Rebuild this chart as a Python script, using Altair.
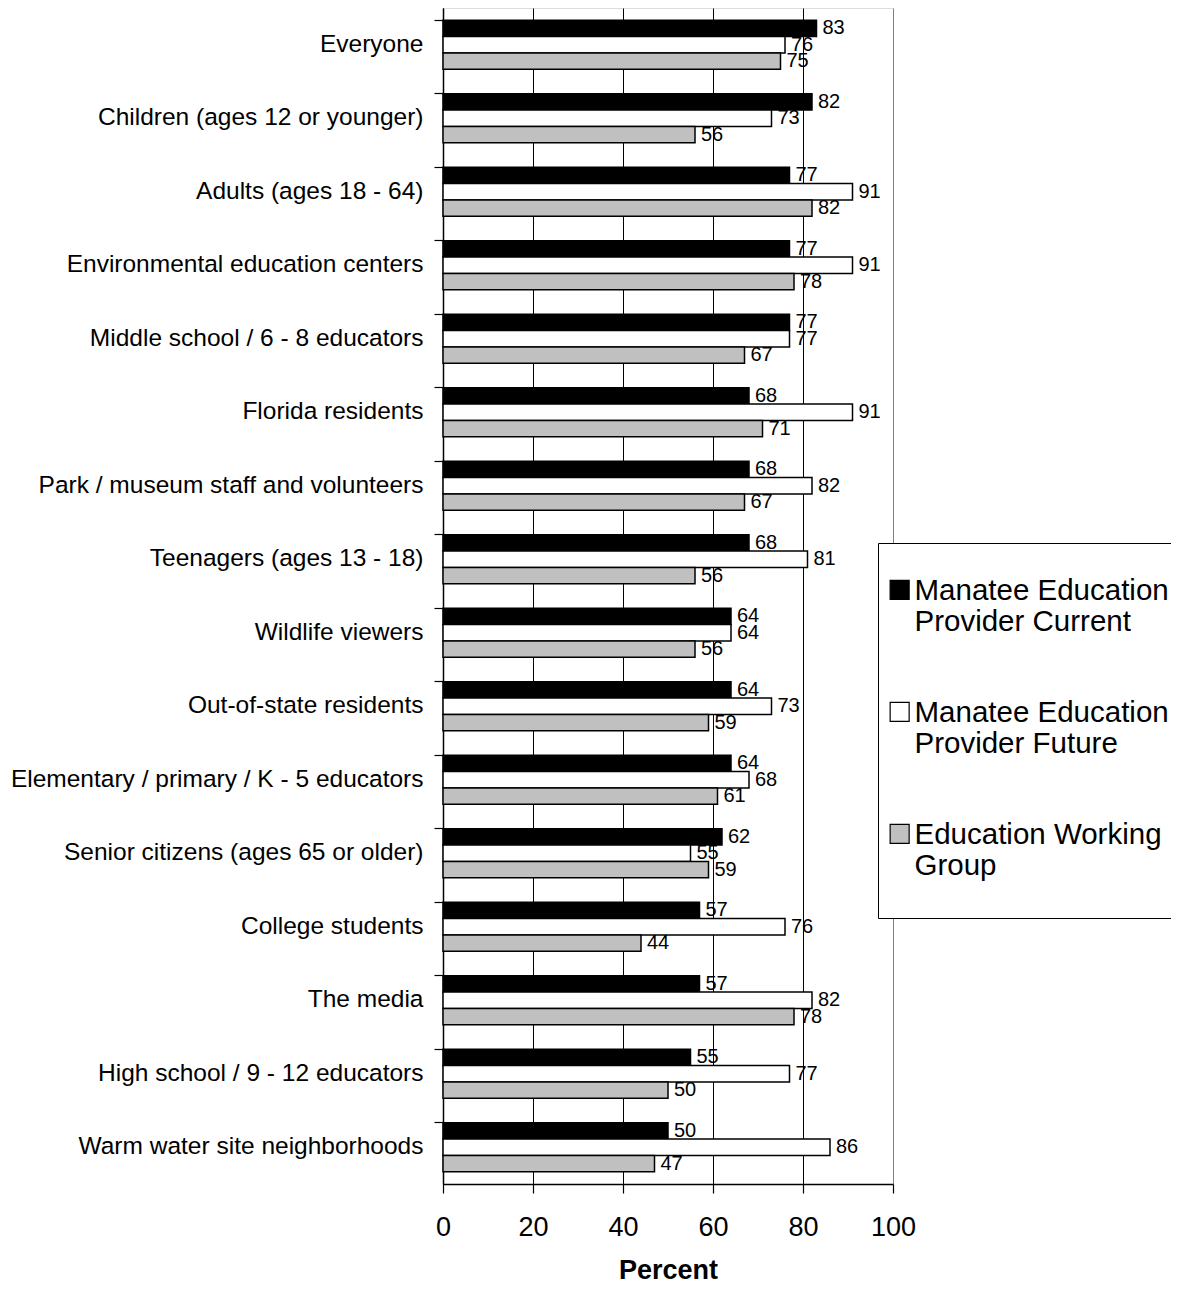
import json
import altair as alt
import pandas as pd

categories = [
    "Everyone",
    "Children (ages 12 or younger)",
    "Adults (ages 18 - 64)",
    "Environmental education centers",
    "Middle school / 6 - 8 educators",
    "Florida residents",
    "Park / museum staff and volunteers",
    "Teenagers (ages 13 - 18)",
    "Wildlife viewers",
    "Out-of-state residents",
    "Elementary / primary / K - 5 educators",
    "Senior citizens (ages 65 or older)",
    "College students",
    "The media",
    "High school / 9 - 12 educators",
    "Warm water site neighborhoods",
]
current = [83, 82, 77, 77, 77, 68, 68, 68, 64, 64, 64, 62, 57, 57, 55, 50]
future = [76, 73, 91, 91, 77, 91, 82, 81, 64, 73, 68, 55, 76, 82, 77, 86]
working = [75, 56, 82, 78, 67, 71, 67, 56, 56, 59, 61, 59, 44, 78, 50, 47]

series_names = [
    "Manatee Education Provider Current",
    "Manatee Education Provider Future",
    "Education Working Group",
]
series_colors = ["#000000", "#ffffff", "#c0c0c0"]
legend_lines = [
    ["Manatee Education   ", "Provider Current"],
    ["Manatee Education   ", "Provider Future"],
    ["Education Working", "Group", ""],
]
x_ticks = [0, 20, 40, 60, 80, 100]

rows = []
for i, c in enumerate(categories):
    for s, vals in zip(series_names, [current, future, working]):
        rows.append({"category": c, "series": s, "value": vals[i]})
df = pd.DataFrame(rows)

label_expr = json.dumps(legend_lines[-1])
for name, lines in reversed(list(zip(series_names[:-1], legend_lines[:-1]))):
    label_expr = f"datum.label === {json.dumps(name)} ? {json.dumps(lines)} : ({label_expr})"

FONT = "Liberation Sans"

y_enc = alt.Y(
    "category:N",
    sort=categories,
    title=None,
    scale=alt.Scale(paddingInner=1 / 3, paddingOuter=1 / 6),
    axis=alt.Axis(
        bandPosition=0,
        labelFontSize=24.5,
        labelFont=FONT,
        labelColor="black",
        tickSize=9,
        tickColor="black",
        tickWidth=1.2,
        domainColor="black",
        domainWidth=1.5,
        labelPadding=11,
        labelLimit=0,
        grid=False,
    ),
)
yoff = alt.YOffset("series:N", sort=series_names, scale=alt.Scale(paddingInner=0, paddingOuter=0))
x_enc = alt.X(
    "value:Q",
    scale=alt.Scale(domain=[0, 100], nice=False),
    title="Percent",
    axis=alt.Axis(
        values=x_ticks,
        labelFontSize=27,
        labelFont=FONT,
        labelColor="black",
        labelFlush=False,
        tickSize=9,
        tickColor="black",
        tickWidth=1.2,
        domainColor="black",
        domainWidth=1.5,
        labelPadding=21,
        titleFont=FONT,
        titleFontSize=27,
        titleFontWeight="bold",
        titleColor="black",
        titlePadding=17,
        grid=True,
        gridColor={"condition": {"test": "datum.value === 100", "value": "#808080"}, "value": "#000000"},
        gridWidth=1,
        gridOpacity=1,
    ),
)

legend = alt.Legend(
    orient="none",
    legendX=435,
    legendY=535,
    title=" ",
    titleFontSize=8,
    titlePadding=29,
    direction="vertical",
    labelExpr=label_expr,
    labelFontSize=29.5,
    labelFont=FONT,
    labelColor="black",
    labelBaseline="alphabetic",
    labelLimit=0,
    labelOffset=2,
    symbolType="M-0.8,-2.05H1.2V-0.05H-0.8Z",
    symbolSize=361,
    symbolStrokeColor="black",
    symbolStrokeWidth=1.2,
    symbolOffset=0,
    rowPadding=60,
    padding=5,
    strokeColor="black",
    fillColor="white",
    cornerRadius=0,
)

bars = alt.Chart(df).mark_bar(stroke="black", strokeWidth=1.5).encode(
    y=y_enc,
    x=x_enc,
    yOffset=yoff,
    color=alt.Color(
        "series:N",
        sort=series_names,
        scale=alt.Scale(domain=series_names, range=series_colors),
        legend=legend,
    ),
)

texts = alt.Chart(df).mark_text(
    align="left", baseline="middle", dx=6, fontSize=20, font=FONT, color="black"
).encode(
    y=alt.Y("category:N", sort=categories),
    x=alt.X("value:Q"),
    yOffset=yoff,
    text=alt.Text("value:Q"),
)

chart = (
    alt.layer(bars, texts)
    .properties(
        width=450,
        height=1176,
        autosize=alt.AutoSizeParams(type="none"),
        padding={"left": 435, "top": 0, "right": 278, "bottom": 99},
    )
    .configure_view(stroke="#808080", strokeWidth=2)
    .configure(background="white")
)

chart.save("out.html", embed_options={"renderer": "svg", "actions": False})
